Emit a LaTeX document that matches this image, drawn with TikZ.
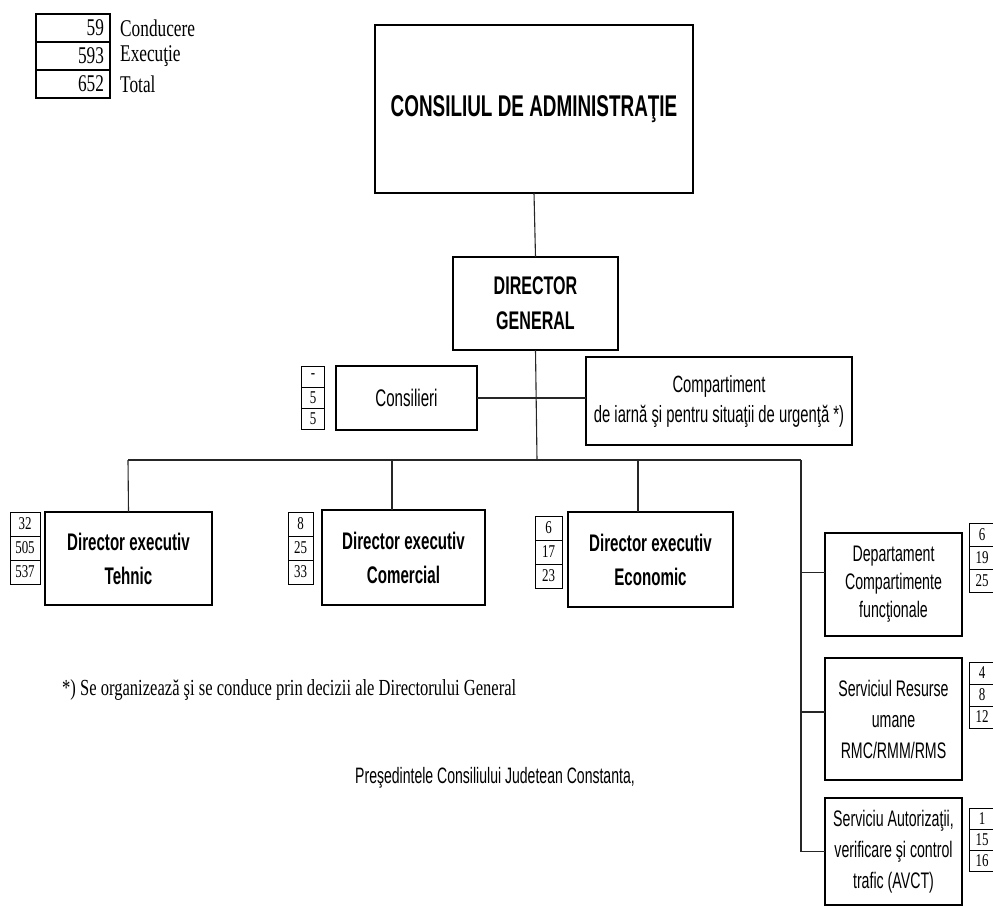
\documentclass[tikz,border=0pt]{standalone}
\usepackage{fontspec}
\newfontfamily\sn[FakeStretch=0.63]{Liberation Sans}
\newfontfamily\rn[FakeStretch=0.72]{Liberation Serif}
\newcommand\fsz[2]{\fontsize{#1}{#2}\selectfont}
\tikzset{
  box/.style={draw, line width=1.6pt, align=center, inner sep=0pt, outer sep=0pt},
  thinbox/.style={box, line width=1.3pt},
  numcell/.style={draw, line width=1pt, inner sep=0pt, outer sep=0pt, font=\rn\fsz{18}{20}},
  link/.style={line width=1.1pt, draw=black!85},
  legcell/.style={draw, line width=1.2pt, inner sep=0pt, outer sep=0pt, minimum width=74pt, minimum height=28pt, text width=62pt, align=right, font=\rn\fsz{24}{26}},
  leglabel/.style={anchor=west, inner sep=0pt, font=\rn\fsz{24}{26}}
}
% #1 name, #2 x, #3 y of first centre, #4 width, #5 height, #6-#8 texts
\newcommand\numcol[8]{%
  \node[numcell, minimum width=#4pt, minimum height=#5pt] (#11) at (#2,#3) {#6};
  \node[numcell, minimum width=#4pt, minimum height=#5pt, anchor=north] (#12) at (#11.south) {#7};
  \node[numcell, minimum width=#4pt, minimum height=#5pt, anchor=north] (#13) at (#12.south) {#8};}
\begin{document}
\begin{tikzpicture}[x=1pt, y=-1pt]
\useasboundingbox (0,0) rectangle (993,907);
\clip (0,0) rectangle (993,907);

% legend
\node[legcell] (lg1) at (73,28) {59};
\node[legcell, anchor=north] (lg2) at (lg1.south) {593};
\node[legcell, anchor=north] (lg3) at (lg2.south) {652};
\node[leglabel] (lt1) at (120,28) {Conducere};
\node[leglabel] (lt2) at (120,56) {Execuţie};
\node[leglabel] (lt3) at (120,84) {Total};

% top boxes
\node[box, minimum width=318pt, minimum height=168pt, font=\sn\bfseries\fsz{30}{34}] (ca) at (534,109) {CONSILIUL DE ADMINISTRAŢIE};
\node[box, minimum width=165pt, minimum height=93pt, font=\sn\bfseries\fsz{25.5}{35}] (dg) at (535.5,303.5) {DIRECTOR\\GENERAL};

\node[thinbox, minimum width=141pt, minimum height=64pt, font=\sn\fsz{24}{28}] (cons) at (406.5,398) {Consilieri};
\numcol{cn}{313}{376.5}{23}{21}{-}{5}{5}
\node[thinbox, minimum width=266pt, minimum height=88pt, font=\sn\fsz{23.5}{30}] (comp) at (719,401) {Compartiment\\de iarnă şi pentru situaţii de urgenţă *)};

% executive directors
\node[box, minimum width=167pt, minimum height=93pt, font=\sn\bfseries\fsz{24}{34}] (teh) at (128.5,558.5) {Director executiv\\Tehnic};
\numcol{tn}{25}{524}{30}{24}{32}{505}{537}
\node[box, minimum width=163pt, minimum height=95pt, font=\sn\bfseries\fsz{24}{34}] (com) at (403.5,557.5) {Director executiv\\Comercial};
\numcol{mn}{300.5}{524}{25}{24}{8}{25}{33}
\node[box, minimum width=165pt, minimum height=95pt, font=\sn\bfseries\fsz{24}{34}] (eco) at (650.5,559.5) {Director executiv\\Economic};
\numcol{en}{548.5}{528}{27}{24}{6}{17}{23}

% right column
\node[thinbox, minimum width=137pt, minimum height=103pt, font=\sn\fsz{22.5}{28}] (dep) at (893.5,584.5) {Departament\\Compartimente\\funcţionale};
\numcol{dn}{982}{534.5}{26}{23}{6}{19}{25}
\node[thinbox, minimum width=137pt, minimum height=122pt, font=\sn\fsz{22.5}{31}] (res) at (893.5,719) {Serviciul Resurse\\umane\\RMC/RMM/RMS};
\numcol{rn}{982}{673}{26}{22}{4}{8}{12}
\node[thinbox, minimum width=137pt, minimum height=107pt, font=\sn\fsz{22.5}{31}] (aut) at (893.5,851.5) {Serviciu Autorizaţii,\\verificare şi control\\trafic (AVCT)};
\numcol{an}{982}{818.5}{26}{21}{1}{15}{16}

% connectors
\coordinate (bus) at (537,460);
\coordinate (bL) at (128,460);
\coordinate (bR) at (801,460);
\draw[link] (ca.south) -- (dg.north);
\draw[link] (dg.south) -- (bus);
\draw[link] (cons.east) -- (cons.east -| comp.west);
\draw[link] (bL) -- (bR);
\draw[link] (teh.north) -- (bL);
\draw[link] ([xshift=-11.5pt]com.north) -- ([xshift=-11.5pt]com.north |- bus);
\draw[link] ([xshift=-12.5pt]eco.north) -- ([xshift=-12.5pt]eco.north |- bus);
\draw[link] (bR) |- ([yshift=12pt]dep.west);
\draw[link] (bR) |- ([yshift=7pt]res.west);
\draw[link] (bR) |- (aut.west);

% notes
\node[anchor=west, inner sep=0pt, font=\rn\fsz{23}{25}] (note) at (62,690) {*) Se organizează şi se conduce prin decizii ale Directorului General};
\node[inner sep=0pt, font=\sn\fsz{22.3}{26}] (pres) at (495,778) {Preşedintele Consiliului Judetean Constanta,};
\end{tikzpicture}
\end{document}
